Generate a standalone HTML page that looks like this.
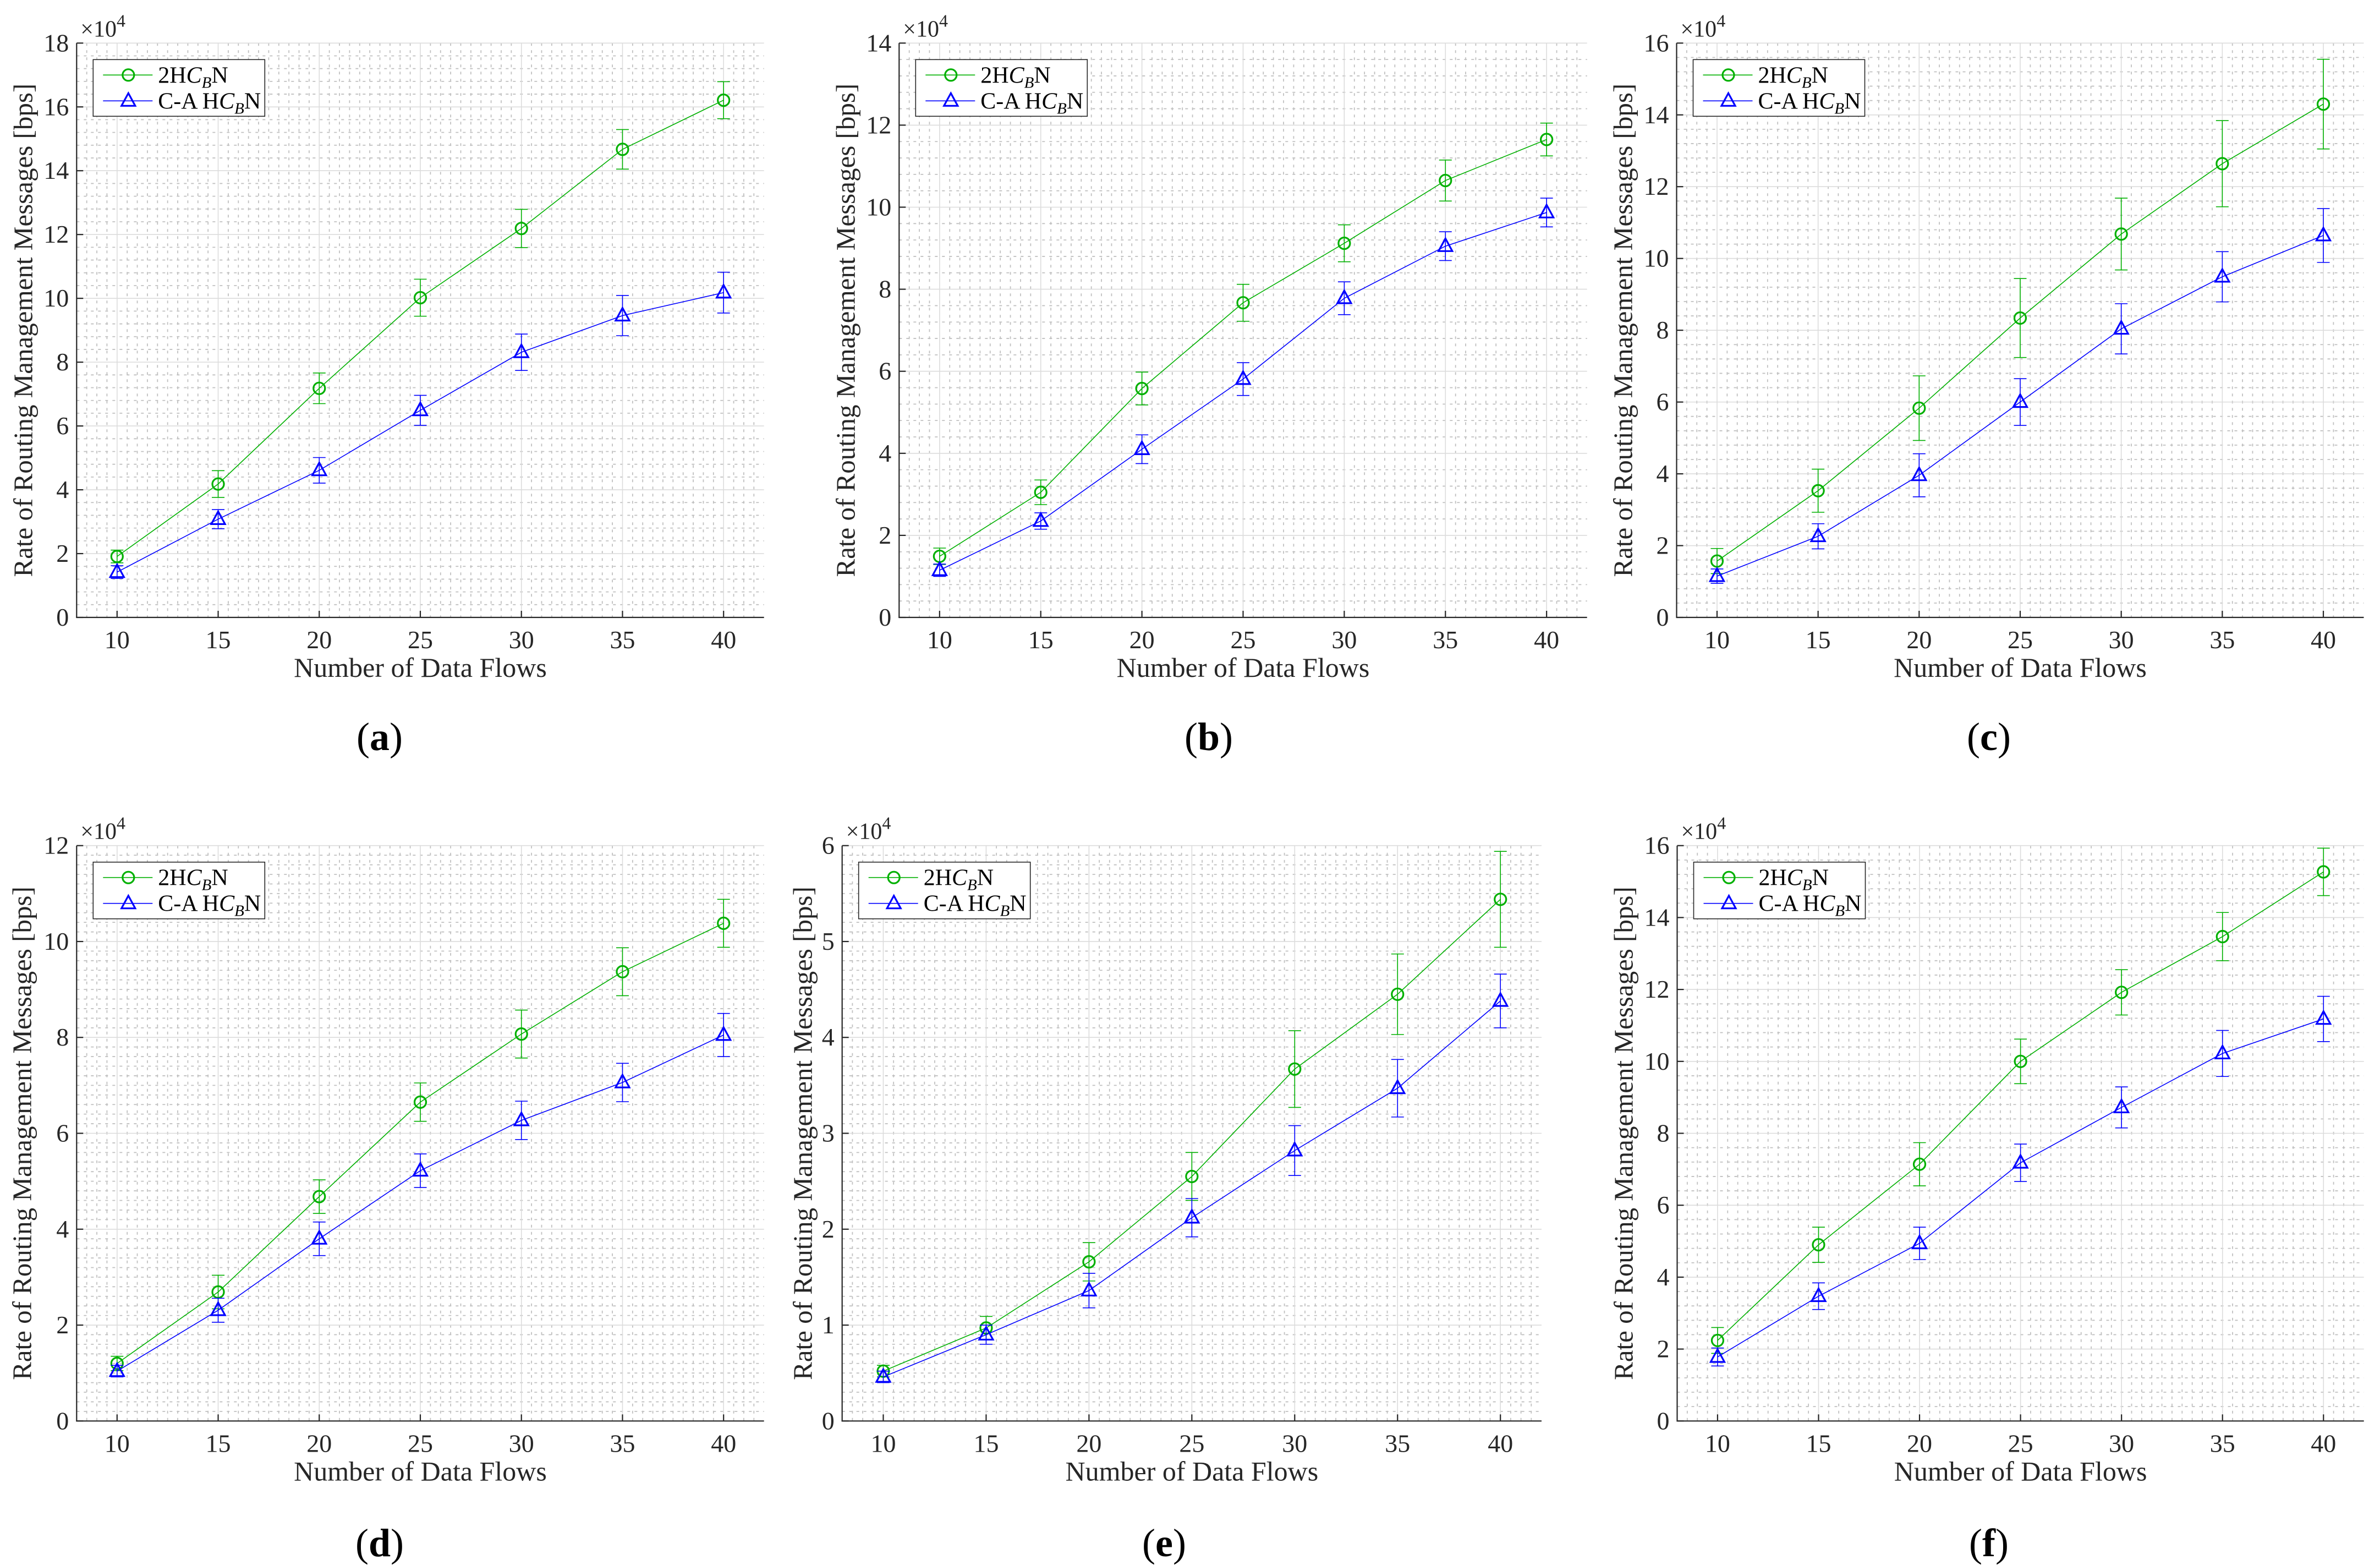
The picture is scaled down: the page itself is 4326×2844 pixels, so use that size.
<!DOCTYPE html>
<html><head><meta charset="utf-8">
<style>
html,body{margin:0;padding:0;background:#fff;}
svg{display:block;font-family:"Liberation Serif",serif;}
</style></head>
<body>
<svg id="fig" width="4326" height="2844" viewBox="0 0 4326 2844" xmlns="http://www.w3.org/2000/svg"></svg>
<script>
const categories = [10, 15, 20, 25, 30, 35, 40];
const seriesNames = ["2HC_BN", "C-A HC_BN"];
// Values in units of 10^4 bps
const aGreen = [1.91, 4.18, 7.18, 10.02, 12.19, 14.67, 16.21];
const aGreenErr = [0.2, 0.42, 0.48, 0.58, 0.6, 0.62, 0.58];
const aBlue = [1.42, 3.08, 4.61, 6.49, 8.31, 9.46, 10.18];
const aBlueErr = [0.2, 0.3, 0.4, 0.47, 0.57, 0.63, 0.64];
const bGreen = [1.49, 3.05, 5.58, 7.67, 9.12, 10.65, 11.65];
const bGreenErr = [0.2, 0.3, 0.4, 0.45, 0.45, 0.5, 0.4];
const bBlue = [1.15, 2.35, 4.1, 5.81, 7.78, 9.05, 9.87];
const bBlueErr = [0.15, 0.2, 0.35, 0.4, 0.4, 0.35, 0.35];
const cGreen = [1.57, 3.53, 5.83, 8.34, 10.68, 12.64, 14.3];
const cGreenErr = [0.35, 0.6, 0.9, 1.1, 1.0, 1.2, 1.25];
const cBlue = [1.15, 2.26, 3.96, 6.0, 8.04, 9.49, 10.64];
const cBlueErr = [0.2, 0.35, 0.6, 0.65, 0.7, 0.7, 0.75];
const dGreen = [1.2, 2.69, 4.68, 6.65, 8.07, 9.37, 10.38];
const dGreenErr = [0.15, 0.35, 0.35, 0.4, 0.5, 0.5, 0.5];
const dBlue = [1.04, 2.31, 3.8, 5.22, 6.27, 7.06, 8.05];
const dBlueErr = [0.12, 0.25, 0.35, 0.35, 0.4, 0.4, 0.45];
const eGreen = [0.52, 0.97, 1.66, 2.55, 3.67, 4.45, 5.44];
const eGreenErr = [0.06, 0.12, 0.2, 0.25, 0.4, 0.42, 0.5];
const eBlue = [0.46, 0.9, 1.36, 2.12, 2.82, 3.47, 4.38];
const eBlueErr = [0.06, 0.1, 0.18, 0.2, 0.26, 0.3, 0.28];
const fGreen = [2.24, 4.9, 7.14, 10.0, 11.92, 13.47, 15.27];
const fGreenErr = [0.36, 0.49, 0.6, 0.62, 0.63, 0.67, 0.66];
const fBlue = [1.78, 3.47, 4.94, 7.18, 8.72, 10.22, 11.18];
const fBlueErr = [0.25, 0.37, 0.45, 0.52, 0.57, 0.64, 0.63];
const yMaxes = [18, 14, 16, 12, 6, 16];
const yTickSteps = [2, 2, 2, 2, 1, 2];
const yMinorSteps = [0.4, 0.4, 0.4, 0.2, 0.1, 0.4];
const captions = ["a", "b", "c", "d", "e", "f"];

const NS = "http://www.w3.org/2000/svg";
const svg = document.getElementById("fig");
function mk(tag, attrs, parent) {
  const e = document.createElementNS(NS, tag);
  for (const k in attrs) e.setAttribute(k, attrs[k]);
  (parent || svg).appendChild(e);
  return e;
}
const layout = [
  {L:139.3, T:78.3, W:1249.4, H:1043.7, cx:690, cy:1338, ylo:-96},
  {L:1634.3, T:78.3, W:1250.4, H:1043.7, cx:2197, cy:1338, ylo:-96},
  {L:3047.5, T:78.3, W:1249, H:1043.7, cx:3615, cy:1338, ylo:-96},
  {L:139.3, T:1536.7, W:1249.4, H:1045.6, cx:690, cy:2803, ylo:-98},
  {L:1530.7, T:1536.7, W:1271.3, H:1045.6, cx:2116, cy:2803, ylo:-70},
  {L:3048.5, T:1536.7, W:1248.2, H:1045.6, cx:3615, cy:2803, ylo:-96}
];
const seriesData = [
  [aGreen, aGreenErr, aBlue, aBlueErr],
  [bGreen, bGreenErr, bBlue, bBlueErr],
  [cGreen, cGreenErr, cBlue, cBlueErr],
  [dGreen, dGreenErr, dBlue, dBlueErr],
  [eGreen, eGreenErr, eBlue, eBlueErr],
  [fGreen, fGreenErr, fBlue, fBlueErr]
];
const GREEN = "#00b000", BLUE = "#0000ff";

layout.forEach((p, i) => {
  const g = mk("g", {});
  
  
  const xmin = 8, xmax = 42, ymax = yMaxes[i];
  const X = v => p.L + (v - xmin) / (xmax - xmin) * p.W;
  const Y = v => p.T + p.H - v / ymax * p.H;
  const B = p.T + p.H, R = p.L + p.W;
  const gridG = mk("g", {}, g);
  
  
  for (let v = xmin + 0.5; v < xmax - 0.01; v += 0.5) {
    if (Math.abs(v / 5 - Math.round(v / 5)) < 1e-6) continue;
    mk("line", {x1:X(v), x2:X(v), y1:p.T, y2:B, stroke:"#c0c0c0", "stroke-width":1.8, "stroke-dasharray":"5 8"}, gridG);
  }
  const ms = yMinorSteps[i], ts = yTickSteps[i];
  for (let k = 1; k * ms < ymax - 1e-6; k++) {
    const v = k * ms;
    if (Math.abs(v / ts - Math.round(v / ts)) < 1e-6) continue;
    mk("line", {x1:p.L, x2:R, y1:Y(v), y2:Y(v), stroke:"#c0c0c0", "stroke-width":1.8, "stroke-dasharray":"5 8"}, gridG);
  }
  categories.forEach(c => mk("line", {x1:X(c), x2:X(c), y1:p.T, y2:B, stroke:"#dcdcdc", "stroke-width":1.6}, gridG));
  for (let v = ts; v <= ymax + 1e-6; v += ts) mk("line", {x1:p.L, x2:R, y1:Y(v), y2:Y(v), stroke:"#dcdcdc", "stroke-width":1.6}, gridG);
  const ax = mk("g", {}, g);
  
  
  mk("line", {x1:p.L, x2:p.L, y1:p.T, y2:B + 1, stroke:"#262626", "stroke-width":2.2}, ax);
  mk("line", {x1:p.L - 1, x2:R, y1:B, y2:B, stroke:"#262626", "stroke-width":2.2}, ax);
  categories.forEach(c => {
    mk("line", {x1:X(c), x2:X(c), y1:B, y2:B - 12, stroke:"#262626", "stroke-width":2.2}, ax);
    const t = mk("text", {x:X(c), y:B + 56, "text-anchor":"middle", "font-size":46, fill:"#262626"}, ax);
    
    
    t.textContent = c;
  });
  for (let v = 0; v <= ymax + 1e-6; v += ts) {
    mk("line", {x1:p.L, x2:p.L + 12, y1:Y(v), y2:Y(v), stroke:"#262626", "stroke-width":2.2}, ax);
    const t = mk("text", {x:p.L - 14, y:Y(v) + 15, "text-anchor":"end", "font-size":46, fill:"#262626"}, ax);
    
    
    t.textContent = Math.round(v);
  }
  const ex = mk("text", {x:p.L + 7, y:p.T - 12, "font-size":42, fill:"#262626"}, ax);
  
  
  ex.innerHTML = '×10<tspan dy="-18" font-size="32">4</tspan>';
  const xl = mk("text", {x:(p.L + R) / 2, y:B + 108, "text-anchor":"middle", "font-size":50, fill:"#262626"}, ax);
  
  
  xl.textContent = "Number of Data Flows";
  const yx = p.L + p.ylo + 15, yy = p.T + p.H / 2;
  const yl = mk("text", {x:yx, y:yy, "text-anchor":"middle", "font-size":49, fill:"#262626", transform:`rotate(-90 ${yx} ${yy})`}, ax);
  
  
  yl.textContent = "Rate of Routing Management Messages [bps]";
  const sd = seriesData[i];
  [[sd[0], sd[1], GREEN, "circle"], [sd[2], sd[3], BLUE, "tri"]].forEach(([vals, errs, col, mkType], si) => {
    const sg = mk("g", {}, g);
    
    
    mk("polyline", {points:categories.map((c, k) => X(c) + "," + Y(vals[k])).join(" "), fill:"none", stroke:col, "stroke-width":1.6}, sg);
    categories.forEach((c, k) => {
      const x = X(c), y1 = Y(vals[k] + errs[k]), y2 = Y(vals[k] - errs[k]);
      const eb = mk("path", {d:`M${x},${y1}V${y2}M${x - 11.5},${y1}H${x + 11.5}M${x - 11.5},${y2}H${x + 11.5}`, stroke:col, "stroke-width":1.6, fill:"none"}, sg);
      
      
      const y = Y(vals[k]);
      let m;
      if (mkType === "circle") m = mk("circle", {cx:x, cy:y, r:10.5, fill:"none", stroke:col, "stroke-width":3.2}, sg);
      else m = mk("path", {d:`M${x},${y - 14}L${x + 12.5},${y + 9}L${x - 12.5},${y + 9}Z`, fill:"none", stroke:col, "stroke-width":3.2}, sg);
      
      
    });
  });
  const lg = mk("g", {}, g);
  
  
  const lx = p.L + 30, ly = p.T + 30;
  mk("rect", {x:lx, y:ly, width:312, height:103, fill:"#fff", stroke:"#262626", "stroke-width":1.6}, lg);
  [[GREEN, "circle", 28, '2H<tspan font-style="italic">C</tspan><tspan font-style="italic" font-size="29" dy="9">B</tspan><tspan dy="-9">N</tspan>'],
   [BLUE, "tri", 75, 'C-A H<tspan font-style="italic">C</tspan><tspan font-style="italic" font-size="29" dy="9">B</tspan><tspan dy="-9">N</tspan>']].forEach(([col, t, dy, label]) => {
    const en = mk("g", {}, lg);
    
    
    const yy2 = ly + dy;
    mk("line", {x1:lx + 18, x2:lx + 108, y1:yy2, y2:yy2, stroke:col, "stroke-width":1.6}, en);
    const mxx = lx + 64;
    if (t === "circle") mk("circle", {cx:mxx, cy:yy2, r:10.5, fill:"none", stroke:col, "stroke-width":3.2}, en);
    else mk("path", {d:`M${mxx},${yy2 - 14}L${mxx + 12.5},${yy2 + 9}L${mxx - 12.5},${yy2 + 9}Z`, fill:"none", stroke:col, "stroke-width":3.2}, en);
    const tx = mk("text", {x:lx + 118, y:yy2 + 14, "font-size":42, fill:"#000"}, en);
    tx.innerHTML = label;
  });
  const cap = mk("text", {x:p.cx, y:p.cy + 25, "text-anchor":"middle", "font-size":72, fill:"#000"});
  
  
  cap.innerHTML = '(<tspan font-weight="bold">' + captions[i] + '</tspan>)';
});
</script>
</body></html>
